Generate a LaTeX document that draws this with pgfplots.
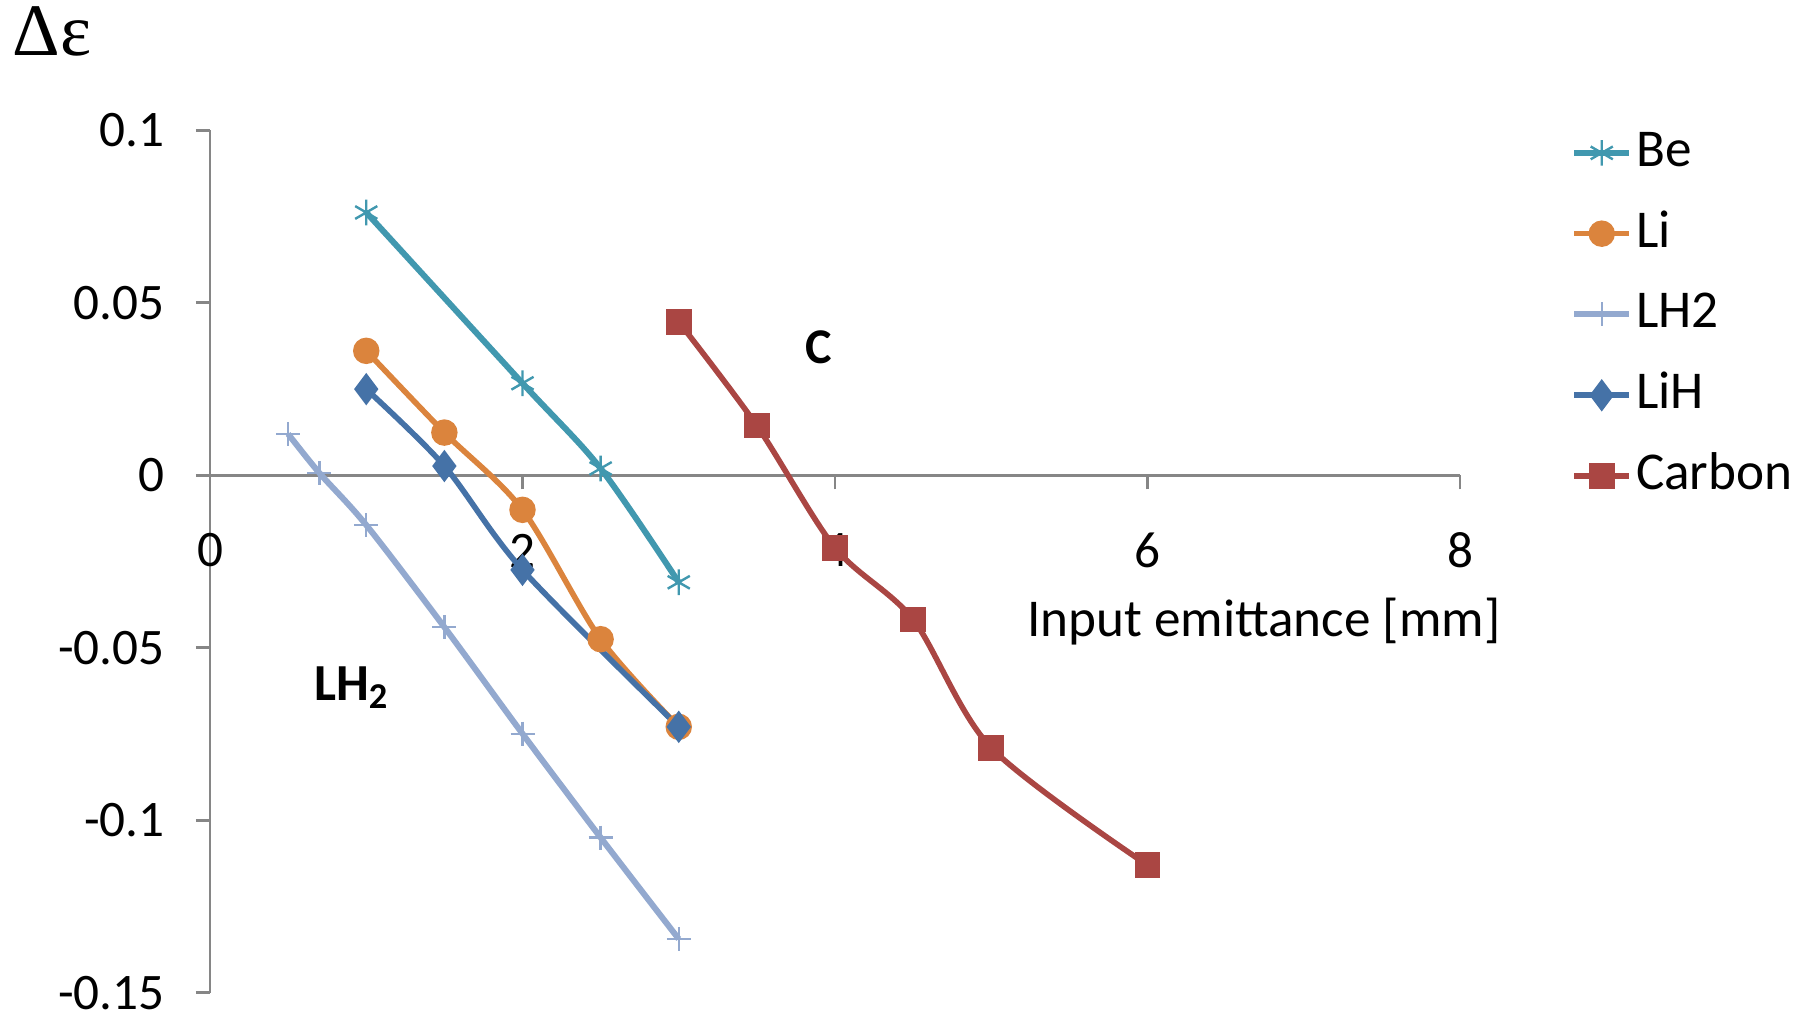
\documentclass[border=0pt]{standalone}
\usepackage{fontspec}
\setmainfont{Carlito}
\newfontfamily\serifont{Liberation Serif}
\usepackage{pgfplots}
\pgfplotsset{compat=1.18}
\definecolor{cBe}{HTML}{4198AF}
\definecolor{cLi}{HTML}{DB843D}
\definecolor{cLH}{HTML}{93A9CF}
\definecolor{cLiH}{HTML}{4572A7}
\definecolor{cC}{HTML}{AA4643}
\definecolor{axgray}{HTML}{868686}
\begin{document}
\fontsize{12.5}{15}\selectfont
\begin{tikzpicture}
\useasboundingbox (-52.5pt,-5.55pt) rectangle (399.5pt,248.2pt);
\begin{axis}[
  at={(0,0)}, anchor=south west,
  scale only axis, width=312.5pt, height=215.6pt,
  xmin=0, xmax=8, ymin=-0.15, ymax=0.1,
  axis x line=middle, axis y line=left,
  axis line style={-, draw=axgray, line width=0.7pt},
  every inner x axis line/.append style={-},
  every outer y axis line/.append style={-},
  hide obscured x ticks=false, hide obscured y ticks=false,
  tick align=outside,
  major tick length=3.5pt,
  tick style={draw=axgray, line width=0.7pt},
  xtick={0,2,4,6,8}, xticklabels={0,2,4,6,8},
  ytick={-0.15,-0.1,-0.05,0,0.05,0.1},
  yticklabels={-0.15,-0.1,-0.05,0,0.05,0.1},
  xticklabel style={font=\fontsize{12.8}{15}\selectfont, anchor=center, yshift=-15.3pt},
  yticklabel style={font=\fontsize{12.8}{15}\selectfont, anchor=east, xshift=-3.5pt},
  xlabel={Input emittance [mm]},
  xlabel style={font=\fontsize{13.3}{16}\selectfont, at={(rel axis cs:0.843,0.43)}, anchor=center},
  ylabel={\serifont Δε},
  ylabel style={font=\fontsize{18.5}{20}\selectfont, at={(rel axis cs:-0.1264,1.115)}, anchor=center, rotate=-90},
  legend style={draw=none, fill=none, at={(rel axis cs:1.0885,1.008)}, anchor=north west,
    inner sep=0pt, row sep=5.9pt, font=\fontsize{13.3}{16}\selectfont,
    nodes={inner sep=1pt, text height=9.5pt, text depth=2.8pt}},
  legend cell align=left,
  legend image code/.code={\draw[mark repeat=2,mark phase=2] plot coordinates {(0cm,0cm) (0.24cm,0cm) (0.48cm,0cm)};},
]
\addplot[color=cBe, line width=1.5pt, smooth, mark=asterisk, mark size=3.2pt, mark options={solid, line width=0.6pt}]
  coordinates {(1,0.0762) (2,0.0267) (2.5,0.002) (3,-0.031)};
\addlegendentry{Be}
\addplot[color=cLi, line width=1.4pt, smooth, mark=*, mark size=2.6pt, mark options={solid, fill=cLi}]
  coordinates {(1,0.0361) (1.5,0.0124) (2,-0.010) (2.5,-0.0475) (3,-0.0729)};
\addlegendentry{Li}
\addplot[color=cLH, line width=1.5pt, smooth, mark=+, mark size=3pt, mark options={solid, line width=0.6pt}]
  coordinates {(0.5,0.012) (0.7,0.0007) (1,-0.0144) (1.5,-0.044) (2,-0.0749) (2.5,-0.105) (3,-0.1344)};
\addlegendentry{LH2}
\addplot[color=cLiH, line width=1.4pt, smooth, mark=diamond*, mark size=2.9pt, mark options={solid, fill=cLiH}]
  coordinates {(1,0.025) (1.5,0.0027) (2,-0.0274) (3,-0.0729)};
\addlegendentry{LiH}
\addplot[color=cC, line width=1.4pt, smooth, mark=square*, mark size=2.5pt, mark options={solid, fill=cC}]
  coordinates {(3,0.0445) (3.5,0.0144) (4,-0.021) (4.5,-0.0418) (5,-0.079) (6,-0.113)};
\addlegendentry{Carbon}
\node[font=\fontsize{12.5}{15}\selectfont\bfseries] at (axis cs:3.896,0.0371) {C};
\node[font=\fontsize{13}{15}\selectfont\bfseries] at (axis cs:0.907,-0.0615) {LH\textsubscript{2}};
\end{axis}
\end{tikzpicture}
\end{document}
